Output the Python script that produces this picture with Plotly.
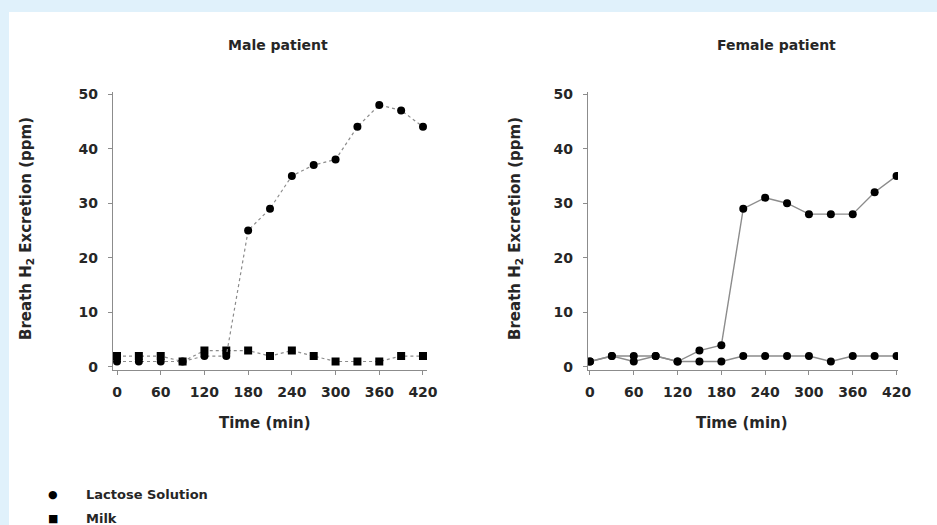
import plotly.graph_objects as go

time_min = [0, 30, 60, 90, 120, 150, 180, 210, 240, 270, 300, 330, 360, 390, 420]
male_lactose = [1, 1, 1, 1, 2, 2, 25, 29, 35, 37, 38, 44, 48, 47, 44]
male_milk = [2, 2, 2, 1, 3, 3, 3, 2, 3, 2, 1, 1, 1, 2, 2]
female_lactose = [1, 2, 1, 2, 1, 3, 4, 29, 31, 30, 28, 28, 28, 32, 35]
female_milk = [1, 2, 2, 2, 1, 1, 1, 2, 2, 2, 2, 1, 2, 2, 2]
x_ticks = [0, 60, 120, 180, 240, 300, 360, 420]
y_ticks = [0, 10, 20, 30, 40, 50]
titles = ["Male patient", "Female patient"]
legend_names = ["Lactose Solution", "Milk"]
legend_glyphs = ["\u25CF", "\u25A0"]

W, H = 937, 525
FONT = "DejaVu Sans"
TXT = "#262626"
LINE_GRAY = "#8c8c8c"

fig = go.Figure()

def add_series(xa, ya, y, symbol, dash, width):
    fig.add_trace(go.Scatter(
        x=time_min, y=y, xaxis=xa, yaxis=ya, mode="lines+markers",
        line=dict(color=LINE_GRAY, dash=dash, width=width),
        marker=dict(symbol=symbol, size=8, color="black"),
        showlegend=False, hoverinfo="skip"))

add_series("x", "y", male_milk, "square", "dot", 1.2)
add_series("x", "y", male_lactose, "circle", "dot", 1.2)
add_series("x2", "y2", female_milk, "circle", "solid", 1.4)
add_series("x2", "y2", female_lactose, "circle", "solid", 1.4)

def px_x(p):
    return p / W

def px_y(p):
    return (H - p) / H

ydom = [px_y(369.7), px_y(92.4)]

axis_common = dict(showline=True, linecolor=LINE_GRAY, linewidth=1.2,
                   ticks="outside", tickcolor=LINE_GRAY, ticklen=4,
                   showgrid=False, zeroline=False, automargin=False,
                   tickfont=dict(family=FONT, size=14, color=TXT, weight="bold"))

fig.update_layout(
    template="none",
    width=W, height=H, autosize=False,
    margin=dict(l=0, r=0, t=0, b=0, pad=0),
    paper_bgcolor="#e0f1fb",
    plot_bgcolor="rgba(0,0,0,0)",
    showlegend=False,
    xaxis=dict(domain=[px_x(113), px_x(427)], range=[-5.5, 425.5],
               tickvals=x_ticks, anchor="y", ticklabelstandoff=5, **axis_common),
    yaxis=dict(domain=ydom, range=[-0.5, 50.3], tickvals=y_ticks, anchor="x",
               ticklabelstandoff=7, **axis_common),
    xaxis2=dict(domain=[px_x(588), px_x(898)], range=[-2.7, 422],
                tickvals=x_ticks, anchor="y2", ticklabelstandoff=5, **axis_common),
    yaxis2=dict(domain=ydom, range=[-0.5, 50.3], tickvals=y_ticks, anchor="x2",
                ticklabelstandoff=7, **axis_common),
    shapes=[dict(type="rect", xref="paper", yref="paper",
                 x0=px_x(9), x1=1.0, y0=0, y1=px_y(12),
                 fillcolor="white", line=dict(width=0), layer="below")],
)

ann_font = dict(family=FONT, size=14, color=TXT, weight="bold")
annotations = [
    dict(text=titles[0], x=px_x(278), y=px_y(45), font=ann_font),
    dict(text=titles[1], x=px_x(776), y=px_y(45), font=ann_font),
    dict(text="Time (min)", x=px_x(265), y=px_y(423), font=dict(ann_font, size=15)),
    dict(text="Time (min)", x=px_x(742), y=px_y(423), font=dict(ann_font, size=15)),
    dict(text="Breath H<sub>2</sub> Excretion (ppm)", x=px_x(26), y=px_y(229),
         textangle=-90, font=dict(ann_font, size=15)),
    dict(text="Breath H<sub>2</sub> Excretion (ppm)", x=px_x(515), y=px_y(229),
         textangle=-90, font=dict(ann_font, size=15)),
]
# legend (symbol glyph + label)
for i, (g, name) in enumerate(zip(legend_glyphs, legend_names)):
    yc = 494 + 24 * i
    annotations.append(dict(text=g, x=px_x(53), y=px_y(yc),
                            font=dict(family=FONT, size=11, color="black")))
    annotations.append(dict(text=name, x=px_x(84), y=px_y(yc), xanchor="left",
                            font=dict(ann_font, size=13)))
for a in annotations:
    a.setdefault("xanchor", "center")
    a.update(xref="paper", yref="paper", showarrow=False, yanchor="middle")
fig.update_layout(annotations=annotations)

post = (
    "var gd=document.getElementById('{plot_id}');"
    "gd.style.position='fixed';gd.style.left='0px';gd.style.top='0px';"
    "document.body.style.margin='0';"
    "document.documentElement.style.overflow='hidden';"
    "document.body.style.overflow='hidden';"
)

fig.write_html(
    "out.html",
    config={"displayModeBar": False},
    post_script=post,
)
